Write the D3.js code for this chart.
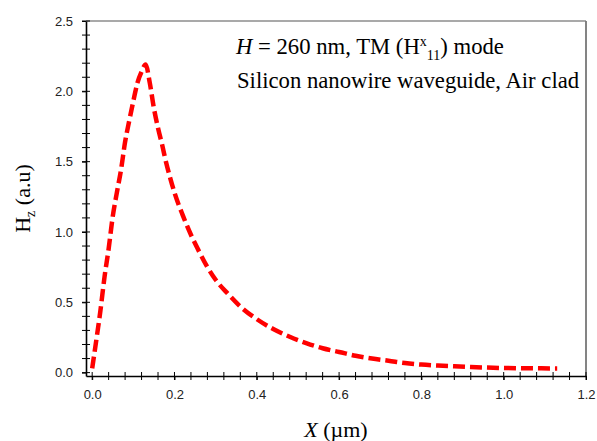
<!DOCTYPE html>
<html>
<head>
<meta charset="utf-8">
<script src="https://cdn.jsdelivr.net/npm/d3@7"></script>
<style>
  body { margin: 0; background: #fff; }
  .tick text { font-family: "Liberation Sans", Arial, sans-serif; font-size: 13px; fill: #222; }
  .serif { font-family: "Liberation Serif", "Times New Roman", serif; fill: #000; }
</style>
</head>
<body>
<div id="chart"></div>
<script>
// field profile
const xValues = [0, 0.01, 0.02, 0.03, 0.04, 0.05, 0.06, 0.07, 0.08, 0.09, 0.10, 0.11, 0.12, 0.13,
  0.14, 0.15, 0.16, 0.17, 0.18, 0.19, 0.20, 0.22, 0.24, 0.26, 0.28, 0.30, 0.33, 0.36, 0.40, 0.44,
  0.48, 0.52, 0.56, 0.60, 0.64, 0.68, 0.72, 0.76, 0.80, 0.84, 0.88, 0.92, 0.96, 1.00, 1.05, 1.13];
const hzValues = [0.03, 0.23, 0.44, 0.68, 0.88, 1.11, 1.28, 1.44, 1.64, 1.79, 1.93, 2.06, 2.14, 2.19,
  2.06, 1.88, 1.74, 1.62, 1.49, 1.38, 1.28, 1.12, 0.98, 0.86, 0.75, 0.66, 0.56, 0.47, 0.38, 0.31,
  0.255, 0.21, 0.173, 0.147, 0.12, 0.10, 0.085, 0.068, 0.057, 0.05, 0.045, 0.04, 0.036, 0.033, 0.031, 0.03];
const xTicks = [0, 0.2, 0.4, 0.6, 0.8, 1.0, 1.2];
const yTicks = [0, 0.5, 1.0, 1.5, 2.0, 2.5];

const W = 597, H = 441;
const pad = { left: 86, right: 586, top: 21, bottom: 376 };

const svg = d3.select('#chart').append('svg')
  .attr('width', W)
  .attr('height', H);

const x = d3.scaleLinear().domain([-0.015, 1.2]).range([pad.left, pad.right]);
const y = d3.scaleLinear().domain([-0.024, 2.5]).range([pad.bottom, pad.top]);

// frame: top and right in grey
svg.append('line').attr('x1', pad.left).attr('x2', pad.right).attr('y1', pad.top).attr('y2', pad.top)
  .attr('stroke', '#555').attr('stroke-width', 1.2);
svg.append('line').attr('x1', pad.right).attr('x2', pad.right).attr('y1', pad.top).attr('y2', pad.bottom)
  .attr('stroke', '#777').attr('stroke-width', 1.8);

// minor ticks, crossing the axis lines
const xMinor = d3.range(0, 1.2001, 0.04);
const yMinor = d3.range(0, 2.5001, 0.1);

svg.append('g').selectAll('line')
  .data(xMinor).enter().append('line')
  .attr('x1', d => x(d)).attr('x2', d => x(d))
  .attr('y1', pad.bottom - 4).attr('y2', pad.bottom + 4)
  .attr('stroke', '#000').attr('stroke-width', 1);

svg.append('g').selectAll('line')
  .data(yMinor).enter().append('line')
  .attr('x1', pad.left - 4).attr('x2', pad.left + 4)
  .attr('y1', d => y(d)).attr('y2', d => y(d))
  .attr('stroke', '#000').attr('stroke-width', 1);

const xAxis = d3.axisBottom(x)
  .tickValues(xTicks)
  .tickFormat(d3.format('.1f'))
  .tickSize(4)
  .tickPadding(10)
  .tickSizeOuter(0);

const gx = svg.append('g')
  .attr('transform', `translate(0, ${pad.bottom})`)
  .call(xAxis);
gx.select('.domain').attr('stroke-width', 1.6);

const yAxis = d3.axisLeft(y)
  .tickValues(yTicks)
  .tickFormat(d3.format('.1f'))
  .tickSize(4)
  .tickPadding(9)
  .tickSizeOuter(0);

const gy = svg.append('g')
  .attr('transform', `translate(${pad.left}, 0)`)
  .call(yAxis);
gy.select('.domain').attr('stroke-width', 1.6);

// curve
const line = d3.line()
  .x((d, i) => x(xValues[i]))
  .y(d => y(d))
  .curve(d3.curveMonotoneX);

svg.append('path')
  .datum(hzValues)
  .attr('d', line)
  .attr('fill', 'none')
  .attr('stroke', '#ff0000')
  .attr('stroke-width', 4.5)
  .attr('stroke-dasharray', '12,5');

// annotation
const t1 = svg.append('text').attr('class', 'serif')
  .attr('x', 236).attr('y', 54).style('font-size', '22.7px');
t1.append('tspan').style('font-style', 'italic').text('H');
t1.append('tspan').text(' = 260 nm, TM (H');
t1.append('tspan').attr('dy', -8).style('font-size', '14px').text('x');
t1.append('tspan').attr('dy', 14).style('font-size', '14px').text('11');
t1.append('tspan').attr('dy', -6).text(') mode');

svg.append('text').attr('class', 'serif')
  .attr('x', 237).attr('y', 88).style('font-size', '22.7px')
  .text('Silicon nanowire waveguide, Air clad');

// axis titles
const yl = svg.append('text').attr('class', 'serif')
  .attr('transform', `translate(30, ${(pad.top + pad.bottom) / 2}) rotate(-90)`)
  .attr('text-anchor', 'middle')
  .style('font-size', '22px');
yl.append('tspan').text('H');
yl.append('tspan').attr('dy', 5).style('font-size', '14px').text('z');
yl.append('tspan').attr('dy', -5).text(' (a.u)');

const xl = svg.append('text').attr('class', 'serif')
  .attr('x', (pad.left + pad.right) / 2).attr('y', 437)
  .attr('text-anchor', 'middle')
  .style('font-size', '22px');
xl.append('tspan').style('font-style', 'italic').text('X');
xl.append('tspan').text(' (\u00b5m)');
</script>
</body>
</html>
